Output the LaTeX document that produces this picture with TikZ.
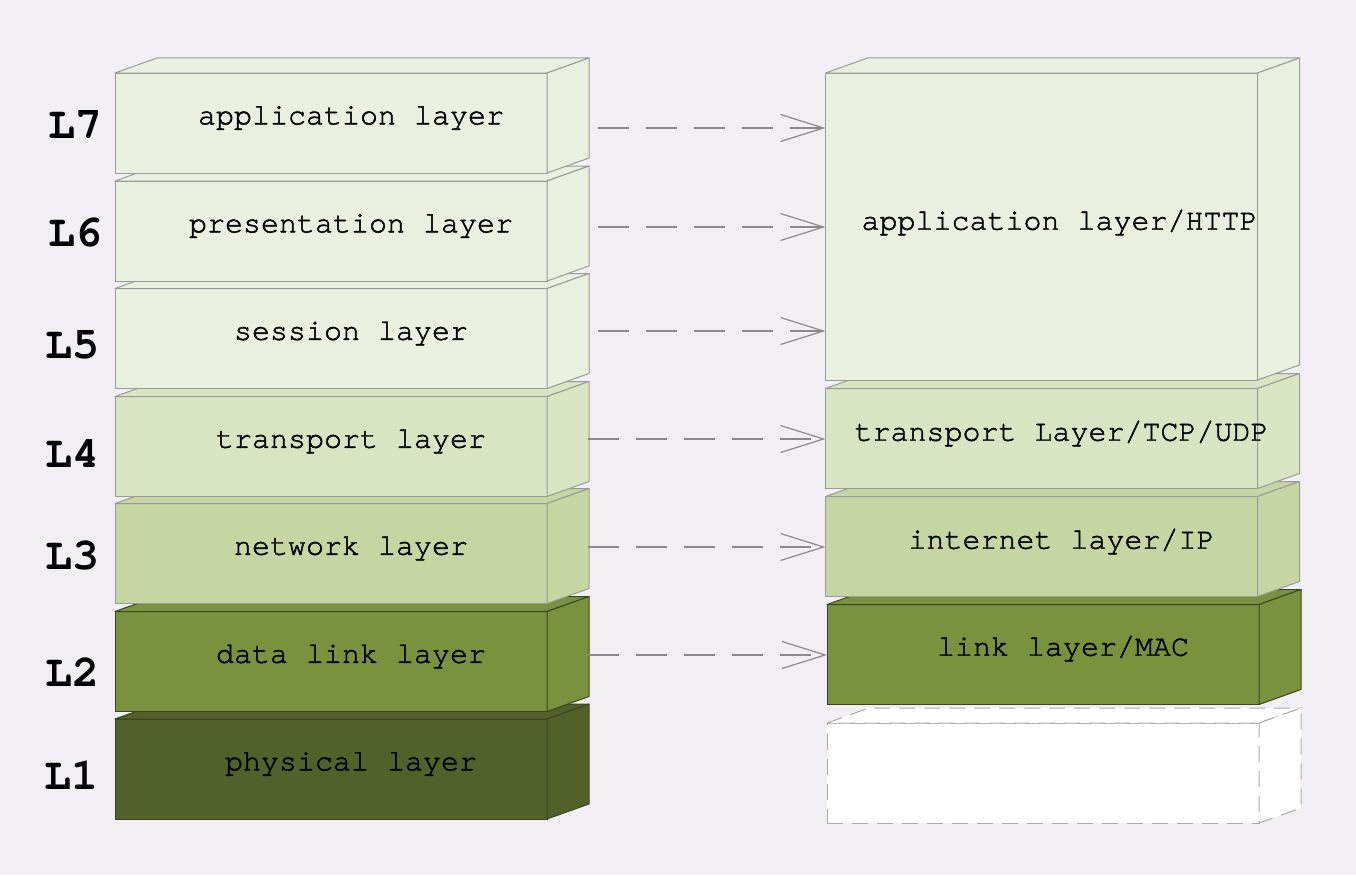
\documentclass[tikz,border=0pt]{standalone}
\usepackage{fontspec}
\setmonofont{texgyrecursor-regular.otf}[BoldFont=texgyrecursor-bold.otf]
\newfontfamily\txtfont{texgyrecursor-regular.otf}[FakeBold=1.5]
\usetikzlibrary{calc,arrows.meta}
\definecolor{bg}{HTML}{F1EFF4}
\definecolor{c7}{HTML}{E9F0DF}
\definecolor{c4}{HTML}{D9E4C2}
\definecolor{c3}{HTML}{C5D6A2}
\definecolor{c2}{HTML}{7A923E}
\definecolor{c1}{HTML}{526129}
\definecolor{edgegray}{HTML}{9A9A9A}
\definecolor{edgedark}{HTML}{3B4620}
\definecolor{arrowgray}{HTML}{8A8A8A}
\definecolor{dashgray}{HTML}{AAAAAA}
\newcommand{\blockfaces}[3]{%
  \filldraw[fill=#2,draw=#3,line width=1pt,line join=round]
    (#1.north west) -- ++(42,-15) -- ($(#1.north east)+(42,-15)$) -- (#1.north east) -- cycle;
  \filldraw[fill=#2,draw=#3,line width=1pt,line join=round]
    (#1.north east) -- ++(42,-15) -- ($(#1.south east)+(42,-15)$) -- (#1.south east) -- cycle;
}
\begin{document}
\begin{tikzpicture}[x=1pt,y=-1pt,
  front/.style={rectangle,inner sep=0pt,outer sep=0pt,line width=1pt,minimum height=100pt,minimum width=432pt},
  lbl/.style={font=\txtfont\fontsize{30}{34}\selectfont,text=black,inner sep=0pt},
  lev/.style={font=\ttfamily\bfseries\fontsize{45}{50}\selectfont,text=black,inner sep=0pt},
  conn/.style={draw=arrowgray,line width=1.2pt,dash pattern=on 31pt off 17pt,-{Straight Barb[length=43pt,width=27pt,line width=1.2pt]}},
]
\fill[bg] (0,0) rectangle (1356,875);
\useasboundingbox (0,0) rectangle (1356,875);

% left column, bottom to top
\node[front,fill=c1,draw=edgedark] (l1) at (331,769) {};
\blockfaces{l1}{c1}{edgedark}
\node[front,fill=c2,draw=edgedark] (l2) at (331,661.5) {};
\blockfaces{l2}{c2}{edgedark}
\node[front,fill=c3,draw=edgegray] (l3) at (331,553.5) {};
\blockfaces{l3}{c3}{edgegray}
\node[front,fill=c4,draw=edgegray] (l4) at (331,446.5) {};
\blockfaces{l4}{c4}{edgegray}
\node[front,fill=c7,draw=edgegray] (l5) at (331,338.5) {};
\blockfaces{l5}{c7}{edgegray}
\node[front,fill=c7,draw=edgegray] (l6) at (331,231) {};
\blockfaces{l6}{c7}{edgegray}
\node[front,fill=c7,draw=edgegray] (l7) at (331,123) {};
\blockfaces{l7}{c7}{edgegray}

\node[lbl] (t1) at ($(l1.center)+(20,-5)$) {physical layer};
\node[lbl] (t2) at ($(l2.center)+(20,-5)$) {data link layer};
\node[lbl] (t3) at ($(l3.center)+(20,-5)$) {network layer};
\node[lbl] (t4) at ($(l4.center)+(20,-5)$) {transport layer};
\node[lbl] (t5) at ($(l5.center)+(20,-5)$) {session layer};
\node[lbl] (t6) at ($(l6.center)+(20,-5)$) {presentation layer};
\node[lbl] (t7) at ($(l7.center)+(20,-5)$) {application layer};

% level labels
\node[lev] (v7) at (75,125) {L7};
\node[lev] (v6) at (75,232) {L6};
\node[lev] (v5) at (72,345) {L5};
\node[lev] (v4) at (72,453) {L4};
\node[lev] (v3) at (72,555) {L3};
\node[lev] (v2) at (72,672) {L2};
\node[lev] (v1) at (71,775) {L1};

% right column
\node[front,fill=white,draw=dashgray,dash pattern=on 16pt off 9pt] (r1) at (1043,773) {};
\filldraw[fill=white,draw=dashgray,line width=1pt,dash pattern=on 16pt off 9pt]
  (r1.north west) -- ++(42,-15) -- ($(r1.north east)+(42,-15)$) -- (r1.north east) -- cycle;
\filldraw[fill=white,draw=dashgray,line width=1pt,dash pattern=on 16pt off 9pt]
  (r1.north east) -- ++(42,-15) -- ($(r1.south east)+(42,-15)$) -- (r1.south east) -- cycle;
\node[front,fill=c2,draw=edgedark] (r2) at (1043,654.5) {};
\blockfaces{r2}{c2}{edgedark}
\node[front,fill=c3,draw=edgegray] (r3) at (1041.5,546.5) {};
\blockfaces{r3}{c3}{edgegray}
\node[front,fill=c4,draw=edgegray] (r4) at (1041.5,438.5) {};
\blockfaces{r4}{c4}{edgegray}
\node[front,fill=c7,draw=edgegray,minimum height=307pt] (r7) at (1041.5,226.5) {};
\blockfaces{r7}{c7}{edgegray}

\node[lbl] (u2) at ($(r2.center)+(20,-6)$) {link layer/MAC};
\node[lbl] (u3) at ($(r3.center)+(20,-5)$) {internet layer/IP};
\node[lbl] (u4) at ($(r4.center)+(20,-5)$) {transport Layer/TCP/UDP};
\node[lbl] (u7) at ($(r7.center)+(18,-4)$) {application layer/HTTP};

% connectors
\coordinate (s7) at (598,128);
\coordinate (s6) at (598,227);
\coordinate (s5) at (598,331);
\coordinate (s4) at (588,439);
\coordinate (s3) at (588,547);
\coordinate (s2) at (588,655);
\draw[conn] (s7) -- (s7 -| r7.west);
\draw[conn] (s6) -- (s6 -| r7.west);
\draw[conn] (s5) -- (s5 -| r7.west);
\draw[conn] (s4) -- (s4 -| r4.west);
\draw[conn] (s3) -- (s3 -| r3.west);
\draw[conn] (s2) -- (s2 -| r2.west);
\end{tikzpicture}
\end{document}
